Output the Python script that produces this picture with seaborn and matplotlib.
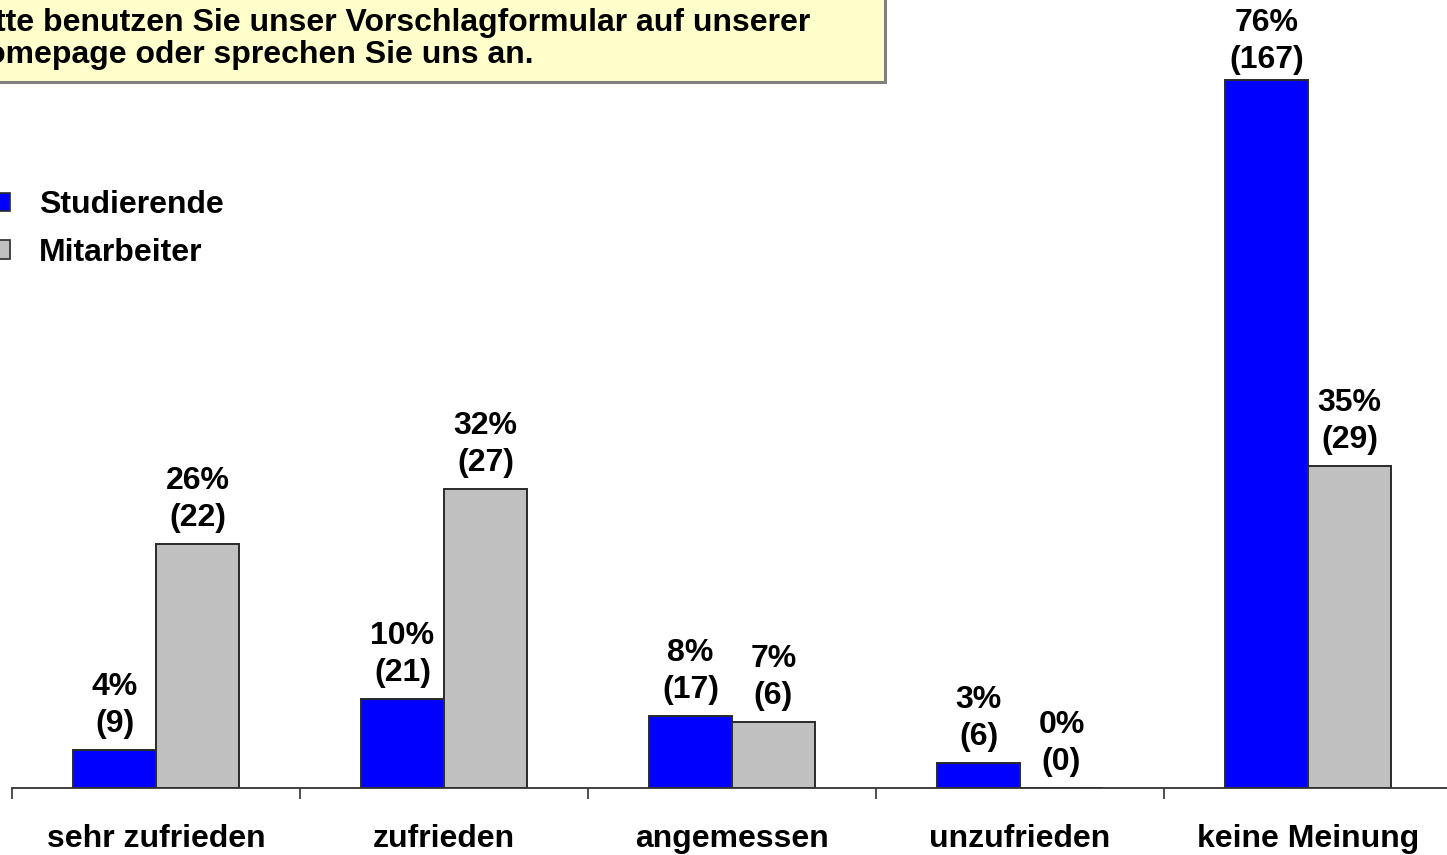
import matplotlib
matplotlib.use("Agg")
import matplotlib.pyplot as plt
import matplotlib.patches as mpatches
import seaborn as sns
import pandas as pd

# ---- data ----
categories = ["sehr zufrieden", "zufrieden", "angemessen", "unzufrieden", "keine Meinung"]
groups = ["Studierende", "Mitarbeiter"]
stud_height = [4.1, 9.5, 7.7, 2.7, 75.9]
mit_height = [26.2, 32.1, 7.1, 0.0, 34.5]
stud_pct = [4, 10, 8, 3, 76]
stud_n = [9, 21, 17, 6, 167]
mit_pct = [26, 32, 7, 0, 35]
mit_n = [22, 27, 6, 0, 29]
box_text = "Bitte benutzen Sie unser Vorschlagformular auf unserer\nHomepage oder sprechen Sie uns an."

sns.set_theme(style="white")
plt.rcParams["font.family"] = ["Liberation Sans", "DejaVu Sans"]
plt.rcParams["font.weight"] = "bold"
plt.rcParams["text.color"] = "black"
plt.rcParams["xtick.color"] = "#333333"
plt.rcParams["xtick.labelcolor"] = "black"

W, H = 1447, 855
FS = 23
fig = plt.figure(figsize=(W / 100, H / 100), dpi=100)
ax = fig.add_axes([12 / W, (H - 788) / H, 1440 / W, 788 / H])

df = pd.DataFrame({
    "cat": categories * 2,
    "grp": [groups[0]] * len(categories) + [groups[1]] * len(categories),
    "val": stud_height + mit_height,
})

sns.barplot(data=df, x="cat", y="val", hue="grp", order=categories, hue_order=groups,
            palette=["#0000FF", "#C0C0C0"], width=0.576, gap=0,
            edgecolor="#2a2a2a", linewidth=1.4, saturation=1, ax=ax)

ymax = 84.5
ax.set_xlim(-0.5, 4.5)
ax.set_ylim(0, ymax)
for s in ["left", "right", "top"]:
    ax.spines[s].set_visible(False)
ax.spines["bottom"].set_color("#333333")
ax.spines["bottom"].set_linewidth(1.3)
ax.set_yticks([])
ax.set_xlabel("")
ax.set_ylabel("")
ax.set_xticks(range(len(categories)))
ax.set_xticklabels(categories, fontsize=FS, fontweight="bold", color="black")
ax.tick_params(axis="x", which="major", bottom=False, length=0, pad=26)
ax.set_xticks([i - 0.5 for i in range(len(categories) + 1)], minor=True)
ax.tick_params(axis="x", which="minor", bottom=True, length=8, width=1.2,
               color="#333333", direction="out")

# value labels
px_per_unit = 788 / ymax
lab_h_px = 95
for cont, pcts, ns in zip(ax.containers, [stud_pct, mit_pct], [stud_n, mit_n]):
    for bar, p, n in zip(cont, pcts, ns):
        xc = bar.get_x() + bar.get_width() / 2
        h = bar.get_height()
        txt = f"{p}%\n({n})"
        if h + lab_h_px / px_per_unit > ymax:
            ax.annotate(txt, (xc, ymax), xytext=(0, -6), textcoords="offset points",
                        ha="center", va="top", fontsize=FS, fontweight="bold",
                        linespacing=1.3, annotation_clip=False, color="black")
        else:
            ax.annotate(txt, (xc, h), xytext=(0, 8), textcoords="offset points",
                        ha="center", va="bottom", fontsize=FS, fontweight="bold",
                        linespacing=1.3, annotation_clip=False, color="black")

# legend
handles, labels = ax.get_legend_handles_labels()
for hd in handles:
    hd.set_edgecolor("#2a2a2a")
    hd.set_linewidth(1.2)
leg = ax.legend(handles, labels, loc="upper left",
                bbox_to_anchor=(-6 / W, 1 - 190 / H), bbox_transform=fig.transFigure,
                frameon=False, borderpad=0, borderaxespad=0,
                handlelength=0.5, handleheight=0.5, handletextpad=0.9,
                labelspacing=0.56, prop={"weight": "bold", "size": FS})
for t in leg.get_texts():
    t.set_color("black")

# note box (top-left, partially cut off)
rect = mpatches.Rectangle((-10 / W, 1 - 82 / H), (885 + 10) / W, 100 / H,
                          transform=fig.transFigure, facecolor="#FFFFCC",
                          edgecolor="#808080", linewidth=2.2, zorder=0)
fig.patches.append(rect)
fig.text(-37 / W, 1 - 39 / H, box_text, ha="left", va="center", fontsize=FS,
         fontweight="bold", linespacing=1.1, color="black")

fig.savefig("out.png", dpi=100)
